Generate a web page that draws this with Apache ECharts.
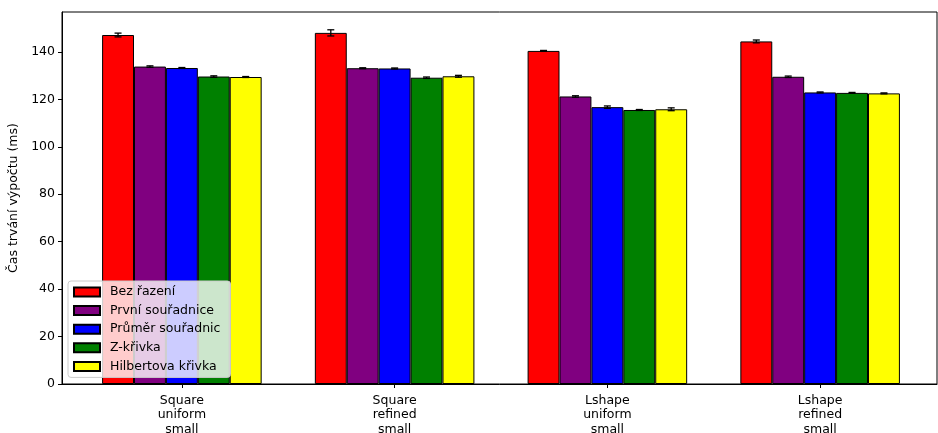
<!DOCTYPE html>
<html>
<head>
<meta charset="utf-8">
<script src="https://cdn.jsdelivr.net/npm/echarts@6/dist/echarts.min.js"></script>
<style>
  html, body { margin: 0; padding: 0; background: #fff; }
  #chart { width: 938px; height: 433px; }
</style>
</head>
<body>
<div id="chart"></div>
<script>
// kategorie (sit / zjemneni / velikost)
const categories = [
  "Square\nuniform\nsmall",
  "Square\nrefined\nsmall",
  "Lshape\nuniform\nsmall",
  "Lshape\nrefined\nsmall",
];
const methods = ["Bez řazení", "První souřadnice", "Průměr souřadnic", "Z-křivka", "Hilbertova křivka"];
const colors = ["#ff0000", "#800080", "#0000ff", "#008000", "#ffff00"];

// prumerne casy (ms), jedno pole na metodu
const bezRazeni = [147.1, 148.0, 140.4, 144.4];
const prvniSouradnice = [133.8, 133.1, 121.2, 129.5];
const prumerSouradnic = [133.2, 133.0, 116.7, 122.9];
const zKrivka = [129.6, 129.1, 115.5, 122.7];
const hilbertova = [129.4, 129.7, 115.8, 122.5];

// smerodatne odchylky
const errBez = [0.8, 1.3, 0.2, 0.6];
const errPrvni = [0.3, 0.2, 0.3, 0.3];
const errPrumer = [0.2, 0.2, 0.5, 0.2];
const errZ = [0.3, 0.3, 0.2, 0.2];
const errHilbert = [0.2, 0.4, 0.6, 0.2];

const yTicks = [0, 20, 40, 60, 80, 100, 120, 140];
const yMax = 156.8;

const values = [bezRazeni, prvniSouradnice, prumerSouradnic, zKrivka, hilbertova];
const errors = [errBez, errPrvni, errPrumer, errZ, errHilbert];

const chart = echarts.init(document.getElementById("chart"));
const font = "DejaVu Sans";
const fs = 12.5;
const barFrac = 0.15; // sirka sloupce jako podil kategorie

const barSeries = methods.map((name, i) => ({
  name: name,
  type: "bar",
  xAxisIndex: 1,
  yAxisIndex: 1,
  barWidth: barFrac * 100 + "%",
  barGap: "0%",
  itemStyle: { color: colors[i], borderColor: "#000", borderWidth: 1 },
  emphasis: { disabled: true },
  data: values[i],
}));

const errSeries = methods.map((name, i) => ({
  name: name + " err",
  type: "custom",
  xAxisIndex: 1,
  yAxisIndex: 1,
  z: 5,
  silent: true,
  data: values[i].map((v, k) => [k, v, errors[i][k]]),
  renderItem: (params, api) => {
    const cat = api.value(0);
    const v = api.value(1);
    const e = api.value(2);
    const band = api.size([1, 0])[0];
    const off = (i - 2) * band * barFrac;
    const top = api.coord([cat, v + e]);
    const bot = api.coord([cat, v - e]);
    const x = top[0] + off;
    const cap = 3.5;
    const st = { stroke: "#000", lineWidth: 1.3 };
    return {
      type: "group",
      children: [
        { type: "line", shape: { x1: x, y1: top[1], x2: x, y2: bot[1] }, style: st },
        { type: "line", shape: { x1: x - cap, y1: top[1], x2: x + cap, y2: top[1] }, style: st },
        { type: "line", shape: { x1: x - cap, y1: bot[1], x2: x + cap, y2: bot[1] }, style: st },
      ],
    };
  },
}));

let option = {
  animation: false,
  textStyle: { fontFamily: font },
  grid: [
    { left: 62, right: 1, top: 12, bottom: 49, outerBoundsMode: "none", containLabel: false,
      show: true, borderColor: "#000", borderWidth: 1, backgroundColor: "transparent" },
    { left: 75.5, right: 11.5, top: 12, bottom: 49, outerBoundsMode: "none", containLabel: false },
  ],
  legend: {
    orient: "vertical",
    left: 68,
    top: 281,
    data: methods,
    itemWidth: 26,
    itemHeight: 9,
    itemGap: 4.6,
    padding: [4, 10, 4, 5],
    backgroundColor: "rgba(255,255,255,0.8)",
    borderColor: "#cccccc",
    borderWidth: 1,
    borderRadius: 3,
    icon: "rect",
    textStyle: { fontFamily: font, fontSize: fs, color: "#000", lineHeight: 14, padding: [0, 0, 0, 5] },
  },
  xAxis: [
    {
      gridIndex: 0,
      type: "value",
      min: 0,
      max: 1,
      axisLine: { show: true, lineStyle: { color: "#000" } },
      axisTick: { show: false },
      axisLabel: { show: false },
      splitLine: { show: false },
    },
    {
      gridIndex: 1,
      type: "category",
      data: categories,
      axisLine: { show: false },
      axisTick: { show: true, alignWithLabel: true, length: 4, lineStyle: { color: "#000" } },
      axisLabel: { color: "#000", fontSize: fs, lineHeight: 14.6, margin: 9, fontFamily: font },
      splitLine: { show: false },
    },
  ],
  yAxis: [
    {
      gridIndex: 0,
      type: "value",
      min: 0,
      max: yMax,
      name: "Čas trvání výpočtu (ms)",
      nameLocation: "middle",
      nameGap: 35,
      nameTextStyle: { color: "#000", fontSize: fs, fontFamily: font },
      axisLine: { show: true, lineStyle: { color: "#000" } },
      axisTick: { show: true, length: 4, customValues: yTicks, lineStyle: { color: "#000" } },
      axisLabel: { color: "#000", fontSize: fs, margin: 7, customValues: yTicks, fontFamily: font },
      splitLine: { show: false },
    },
    {
      gridIndex: 1,
      type: "value",
      min: 0,
      max: yMax,
      show: false,
      splitLine: { show: false },
    },
  ],
  series: [...barSeries, ...errSeries],
};
option && chart.setOption(option);
</script>
</body>
</html>
